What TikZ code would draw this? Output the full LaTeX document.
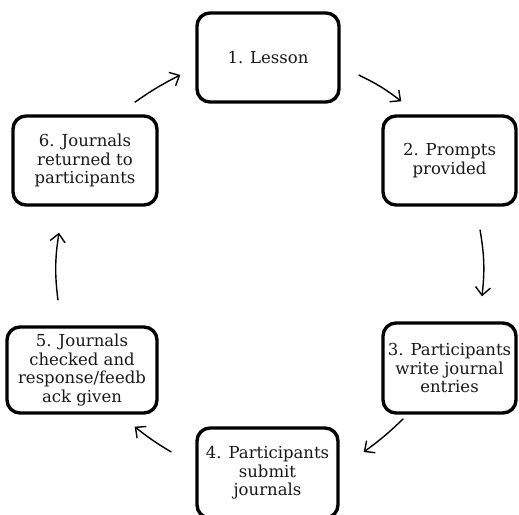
\documentclass[tikz,border=0pt]{standalone}
\usepackage{fontspec}
\setmainfont{DejaVu Serif}
\usetikzlibrary{arrows.meta}

\begin{document}
\begin{tikzpicture}[x=1pt,y=-1pt,
    stage/.style={draw, line width=3.4pt, rounded corners=13pt, fill=white, align=center, inner sep=0pt,
      text=black!90, font=\fontsize{16.5}{18.5}\selectfont},
    flow/.style={line width=1.4pt, -{Straight Barb[length=8pt,width=15pt]}}]
  \useasboundingbox (0,0) rectangle (519,514);
  \node [stage, minimum width=142pt, minimum height=89pt] (lesson) at (268,57.5) {1. Lesson};
  \node [stage, minimum width=133pt, minimum height=89pt] (prompts) at (449.5,160.5) {2. Prompts\\provided};
  \node [stage, minimum width=133pt, minimum height=90pt] (write) at (449.5,368) {3. Participants\\write journal\\entries};
  \node [stage, minimum width=141pt, minimum height=90pt] (submit) at (267.5,473) {4. Participants\\submit\\journals};
  \node [stage, minimum width=150pt, minimum height=86pt] (checked) at (82,370) {5. Journals\\checked and\\response/feedb\\ack given};
  \node [stage, minimum width=144pt, minimum height=89pt] (returned) at (85,160.5) {6. Journals\\returned to\\participants};
  % arrows round the cycle
  \draw [flow] ([shift={(18,17.5)}]lesson.east) to[bend left=6] ([shift={(20,-13)}]prompts.north west);
  \draw [flow] ([shift={(30.5,23)}]prompts.south) to[bend left=8] ([shift={(32.5,-25)}]write.north);
  \draw [flow] ([shift={(22,4)}]write.south west) to[bend left=4] ([shift={(24,-21)}]submit.east);
  \draw [flow] ([shift={(-24,-21)}]submit.west) to[bend left=4] ([shift={(-24,12)}]checked.south east);
  \draw [flow] ([shift={(-24,-25)}]checked.north) to[bend left=8] ([shift={(-26,26)}]returned.south);
  \draw [flow] ([shift={(-24,-12)}]returned.north east) to[bend left=4] ([shift={(-15,17.5)}]lesson.west);
\end{tikzpicture}
\end{document}
